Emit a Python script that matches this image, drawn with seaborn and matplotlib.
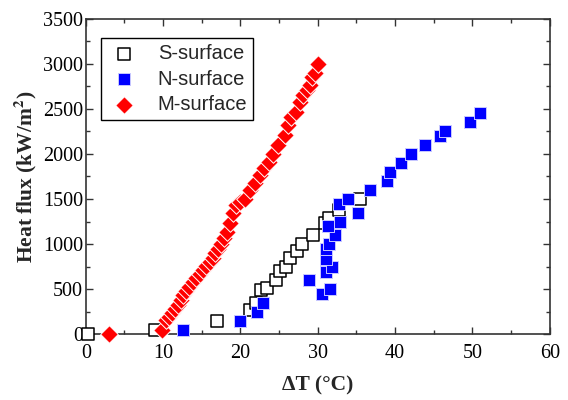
import matplotlib
matplotlib.use("Agg")
import matplotlib.pyplot as plt
import seaborn as sns
import pandas as pd
from matplotlib.ticker import MultipleLocator

# Boiling curves: wall superheat (°C) vs heat flux (kW/m^2)
s_dt = [0.3, 9.0, 17.0, 21.2, 22.0, 22.7, 23.4, 24.6, 25.1, 25.9, 26.4, 27.3,
        27.9, 29.4, 30.9, 31.5, 32.8, 35.4]
s_q = [0, 50, 150, 270, 350, 490, 510, 600, 700, 750, 850, 920,
       1000, 1100, 1230, 1290, 1380, 1500]

n_dt = [12.6, 19.9, 22.1, 22.9, 28.9, 30.5, 31.6, 31.1, 31.9, 31.0, 31.1, 31.5,
        32.2, 31.3, 32.9, 32.7, 33.9, 35.2, 36.8, 39.0, 39.4, 40.8, 42.0, 43.9,
        45.8, 46.4, 49.7, 51.0]
n_q = [45, 150, 240, 350, 600, 445, 495, 690, 745, 835, 950, 995,
       1095, 1200, 1245, 1445, 1495, 1350, 1600, 1700, 1795, 1895, 2000, 2100,
       2200, 2250, 2350, 2450]

m_dt = [3.0, 9.8, 10.4, 10.8, 11.1, 11.5, 11.9, 12.3, 12.6, 13.0, 13.4, 13.9,
        14.3, 14.8, 15.2, 15.6, 16.0, 16.4, 16.7, 17.1, 17.5, 17.9, 18.2, 18.6,
        19.1, 19.4, 20.0, 20.6, 21.2, 21.9, 22.5, 23.1, 23.7, 24.2, 24.9, 25.7,
        26.2, 26.6, 27.2, 27.7, 28.1, 28.6, 29.0, 29.3, 29.6, 30.0]
m_q = [0, 45, 155, 190, 230, 280, 320, 380, 435, 480, 525, 575,
       620, 665, 710, 760, 805, 850, 895, 950, 1005, 1070, 1135, 1230,
       1340, 1430, 1470, 1505, 1600, 1675, 1765, 1840, 1915, 2005, 2100, 2210,
       2320, 2415, 2470, 2580, 2655, 2710, 2765, 2860, 2900, 3000]

df_s = pd.DataFrame({"dt": s_dt, "q": s_q})
df_n = pd.DataFrame({"dt": n_dt, "q": n_q})
df_m = pd.DataFrame({"dt": m_dt, "q": m_q})

sns.set_theme(style="ticks")
plt.rcParams["font.family"] = ["Liberation Serif", "DejaVu Serif"]
plt.rcParams["mathtext.fontset"] = "stix"

fig, ax = plt.subplots(figsize=(5.68, 4.0), dpi=100)
fig.subplots_adjust(left=0.151, right=0.968, top=0.9525, bottom=0.165)

sns.scatterplot(data=df_s, x="dt", y="q", ax=ax, marker="s", s=85,
                facecolor="white", edgecolor="black", linewidth=1.1,
                label="S-surface", zorder=3, clip_on=False)
sns.scatterplot(data=df_n, x="dt", y="q", ax=ax, marker="s", s=80,
                color="#0000ff", edgecolor="#c8c8ff", linewidth=0.7,
                label="N-surface", zorder=4, clip_on=False)
sns.scatterplot(data=df_m, x="dt", y="q", ax=ax, marker="D", s=80,
                color="#ff0000", edgecolor="white", linewidth=0.7,
                label="M-surface", zorder=5, clip_on=False)

ax.set_xlim(0, 60)
ax.set_ylim(0, 3500)
ax.xaxis.set_major_locator(MultipleLocator(10))
ax.xaxis.set_minor_locator(MultipleLocator(5))
ax.yaxis.set_major_locator(MultipleLocator(500))
ax.yaxis.set_minor_locator(MultipleLocator(250))
ax.tick_params(which="both", direction="in", top=True, right=True,
               labelsize=14.5, labelcolor="black", color="#333333", width=1.0)
ax.tick_params(which="major", length=5)
ax.tick_params(which="minor", length=3)
ax.tick_params(axis="x", pad=7)
ax.tick_params(axis="y", pad=2)
for sp in ax.spines.values():
    sp.set_visible(True)
    sp.set_color("#333333")
    sp.set_linewidth(1.2)

ax.set_xlabel("ΔT (°C)", fontsize=15.5, fontweight="bold", labelpad=9)
ax.set_ylabel("Heat flux (kW/m$^\\mathbf{2}$)", fontsize=15.5,
              fontweight="bold", labelpad=3)

leg = ax.legend(loc="upper left", bbox_to_anchor=(0.012, 0.972), frameon=True,
                fancybox=False, edgecolor="black", framealpha=1,
                prop={"family": "Liberation Sans", "size": 14.5},
                handletextpad=0.9, borderpad=0.3, labelspacing=0.33,
                handlelength=1.6)
leg.get_frame().set_linewidth(1.0)

fig.savefig("out.png", dpi=100)
